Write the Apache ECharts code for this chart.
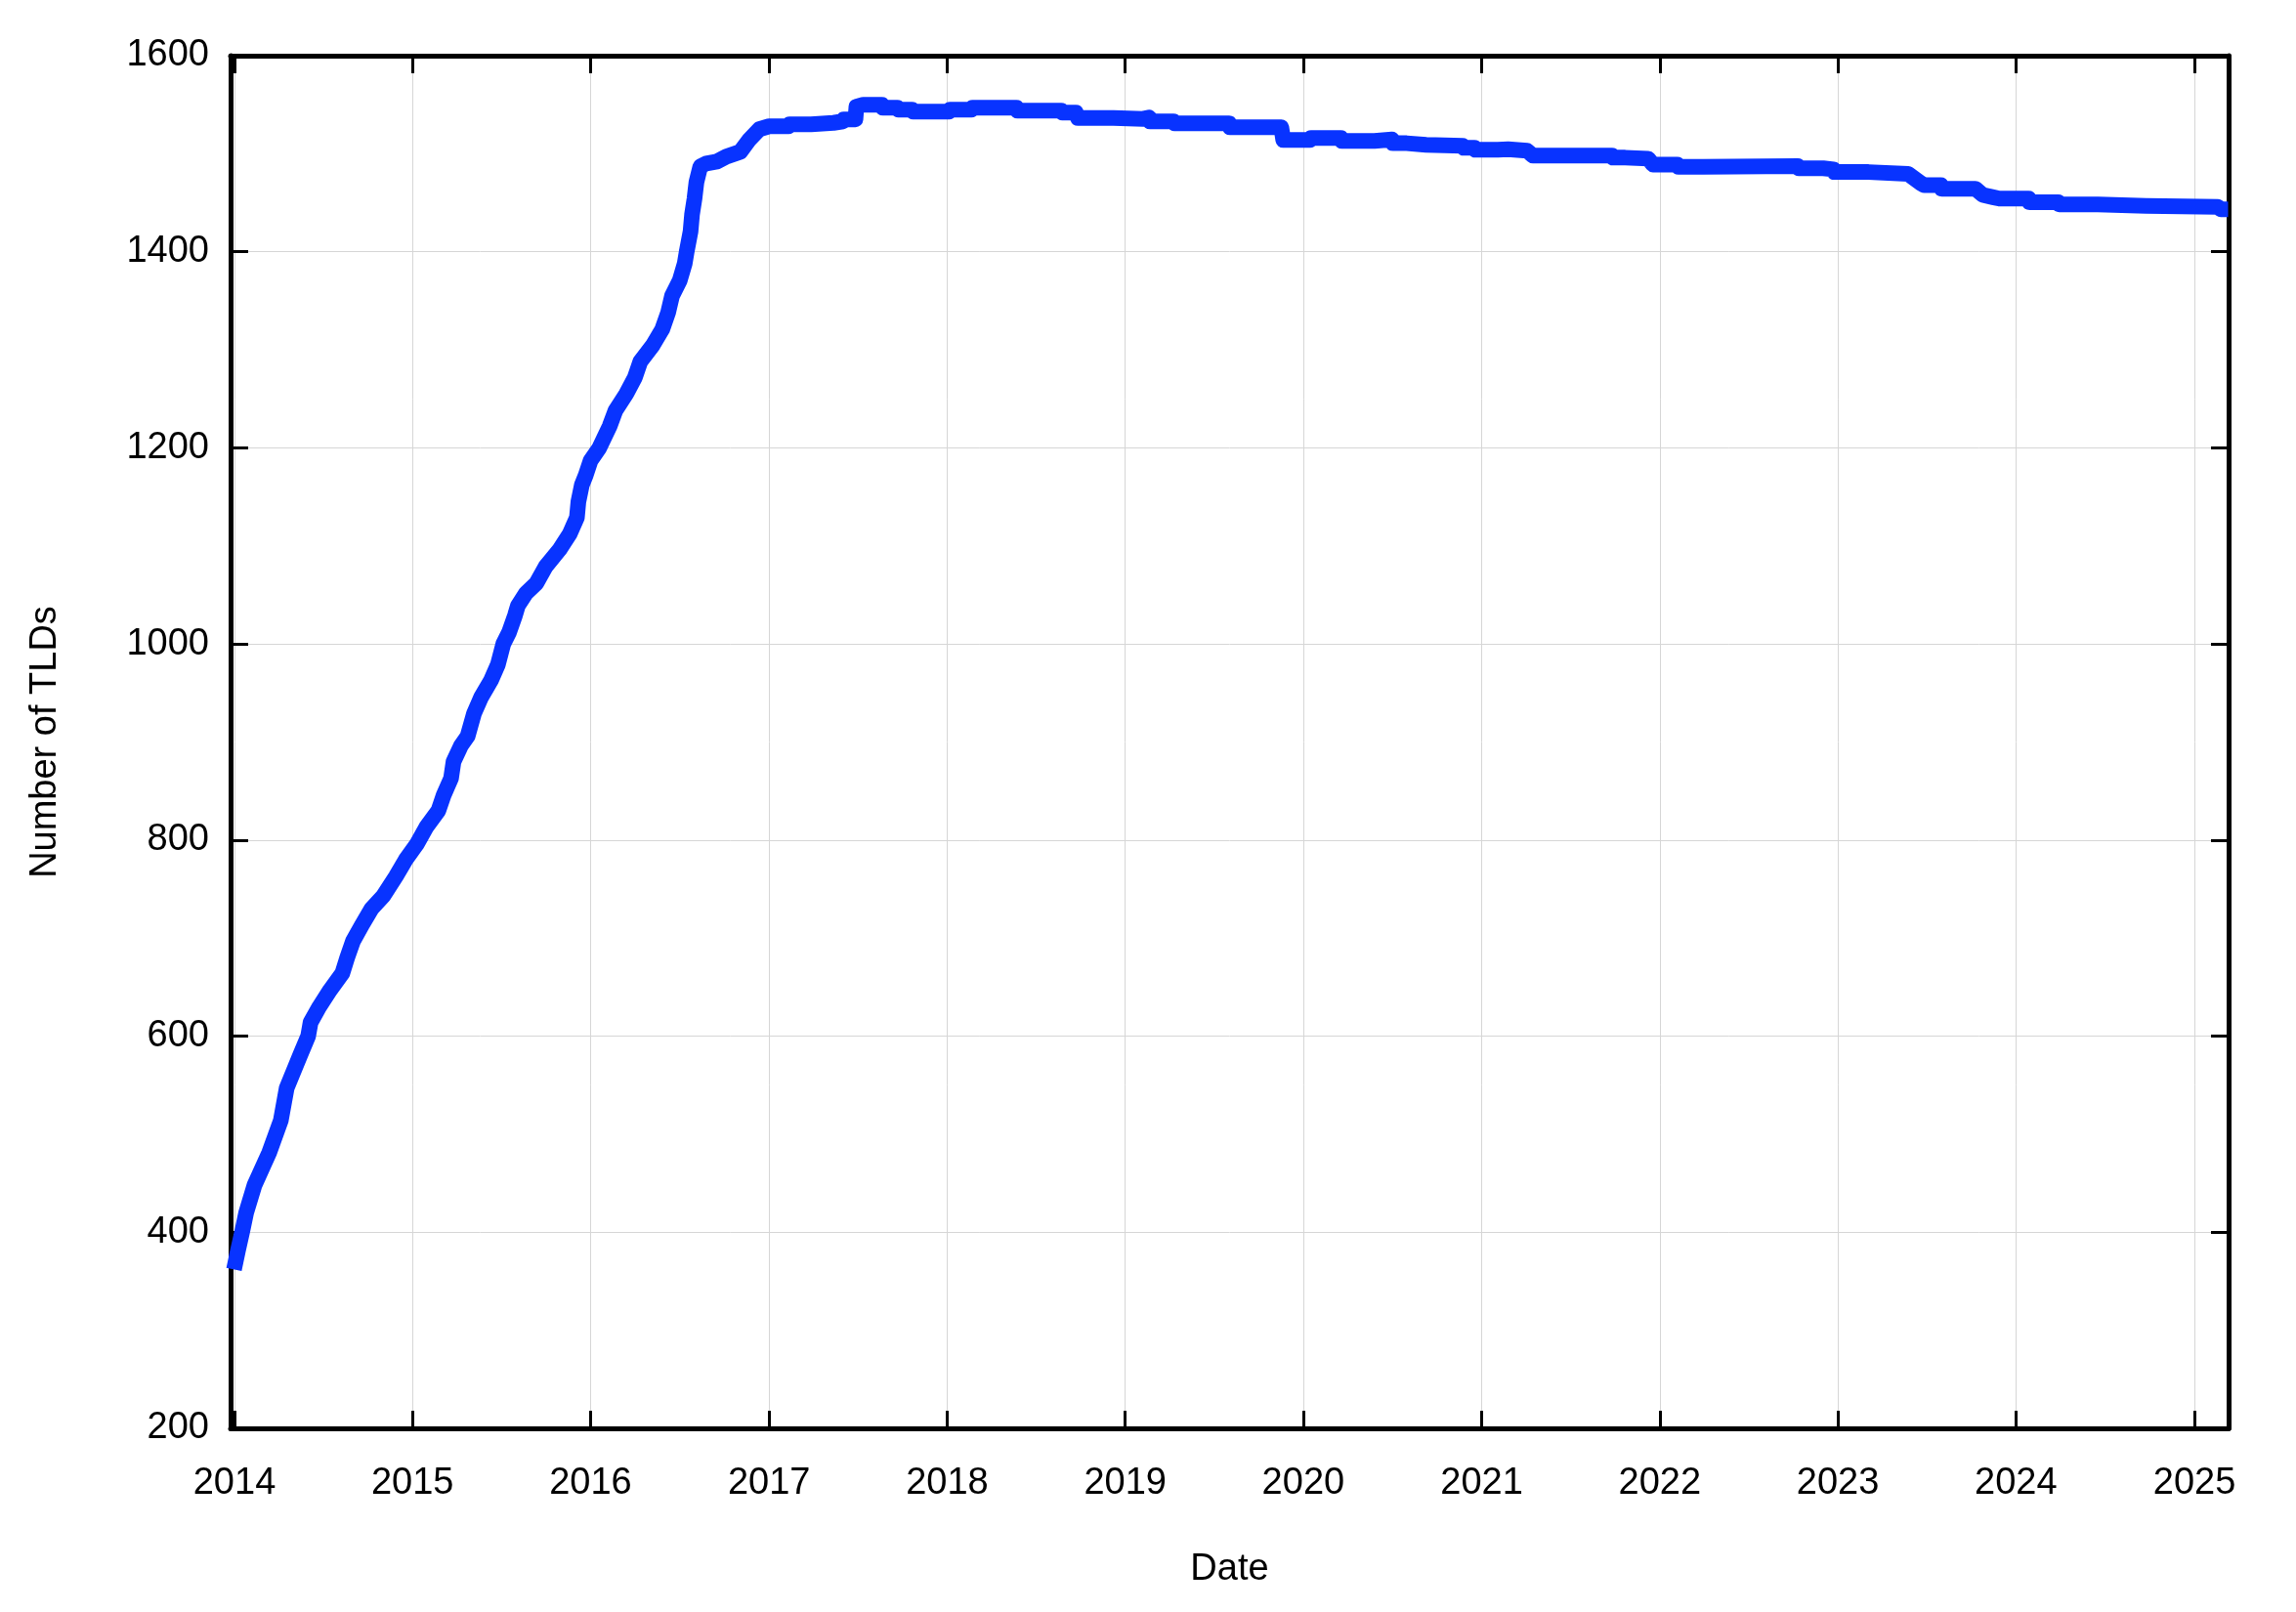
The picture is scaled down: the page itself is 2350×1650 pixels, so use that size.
<!DOCTYPE html>
<html>
<head>
<meta charset="utf-8">
<script src="https://cdn.jsdelivr.net/npm/echarts@6/dist/echarts.min.js"></script>
<style>
html,body{margin:0;padding:0;background:#fff;}
#chart{width:2350px;height:1650px;}
</style>
</head>
<body>
<div id="chart"></div>
<script>
const dates = [
'2013-12-31','2014-01-08','2014-01-17','2014-01-25','2014-02-11','2014-03-13','2014-04-06','2014-04-18','2014-05-16','2014-06-01',
'2014-06-06','2014-06-24','2014-07-16','2014-08-10','2014-08-20','2014-09-01','2014-09-19','2014-10-09','2014-11-02','2014-11-28',
'2014-12-18','2015-01-10','2015-01-29','2015-02-23','2015-03-06','2015-03-21','2015-03-26','2015-04-10','2015-04-24','2015-05-07',
'2015-05-22','2015-06-11','2015-06-25','2015-07-06','2015-07-18','2015-07-30','2015-08-05','2015-08-22','2015-09-12','2015-10-01',
'2015-10-29','2015-11-19','2015-12-04','2015-12-07','2015-12-14','2015-12-22','2016-01-01','2016-01-19','2016-02-09','2016-02-21',
'2016-03-14','2016-04-01','2016-04-12','2016-05-08','2016-05-27','2016-06-08','2016-06-16','2016-07-02','2016-07-12','2016-07-16',
'2016-07-24','2016-07-27','2016-08-01','2016-08-05','2016-08-13','2016-08-25','2016-09-16','2016-10-05','2016-11-03','2016-11-21',
'2016-12-12','2017-01-01','2017-02-10','2017-02-12','2017-03-28','2017-03-30','2017-05-13','2017-05-15','2017-06-01','2017-06-03',
'2017-06-27','2017-06-29','2017-07-13','2017-08-20','2017-08-22','2017-09-21','2017-09-23','2017-10-21','2017-10-23','2018-01-05',
'2018-01-07','2018-02-20','2018-02-22','2018-05-23','2018-05-25','2018-08-23','2018-08-25','2018-09-22','2018-09-26','2018-12-08',
'2018-12-10','2019-02-07','2019-02-08','2019-02-19','2019-02-21','2019-04-10','2019-04-12','2019-08-02','2019-08-04','2019-11-17',
'2019-11-21','2020-01-15','2020-01-17','2020-03-18','2020-03-20','2020-05-26','2020-05-28','2020-07-01','2020-07-03','2020-07-31',
'2020-08-02','2020-09-09','2020-09-11','2020-11-23','2020-11-25','2020-12-17','2020-12-19','2021-02-03','2021-02-05','2021-02-24',
'2021-02-26','2021-04-04','2021-04-16','2021-09-25','2021-09-27','2021-10-22','2021-10-24','2021-12-08','2021-12-18','2022-02-06',
'2022-02-08','2022-03-30','2022-04-01','2022-10-11','2022-10-13','2022-12-02','2022-12-04','2022-12-23','2022-12-25','2023-03-05',
'2023-03-07','2023-05-25','2023-06-20','2023-06-27','2023-07-31','2023-08-02','2023-10-10','2023-10-25','2023-11-15','2023-11-28',
'2024-01-27','2024-01-29','2024-03-28','2024-03-30','2024-06-17','2024-06-19','2024-09-24','2024-09-26','2025-02-18','2025-02-24',
'2025-03-11'
];
const tldCounts = [
362,381,401,420,448,481,514,547,581,600,
614,630,647,664,680,697,713,730,743,763,
780,796,813,830,846,863,880,896,906,929,
946,963,979,1000,1012,1029,1039,1052,1062,1079,
1096,1112,1129,1145,1162,1172,1187,1200,1222,1238,
1255,1272,1288,1305,1321,1338,1355,1371,1388,1400,
1421,1438,1454,1471,1487,1490,1492,1497,1502,1514,
1525,1528,1528,1530,1530,1531.5,1531.5,1533,1533,1535,
1535,1548,1550,1550,1547,1547,1545,1545,1543,1543,
1545,1545,1547,1547,1544,1544,1542,1542,1536.5,1536.5,
1535.6,1535.6,1537,1537,1533,1533,1531,1531,1527,1527,
1514,1514,1516,1516,1513,1513,1514.5,1514.5,1510.7,1510.7,
1509,1509,1508,1508,1506,1506,1504,1504,1504.5,1504.5,
1503,1503,1498,1498,1496,1496,1495,1495,1489,1489,
1486.6,1486.6,1487.4,1487.4,1485.2,1485.2,1484,1484,1481.3,1481.3,
1479.4,1479.4,1470,1468,1468,1464.3,1464.3,1458,1455.7,1454.3,
1454.3,1450.5,1450.5,1448.4,1448.4,1446.7,1446.7,1445.7,1445.7,1443.4,
1443.4
];
const yTicks = [200, 400, 600, 800, 1000, 1200, 1400, 1600];
const xMin = '2013-12-24';
const xMax = '2025-03-12';

const seriesData = dates.map((d, i) => [d, tldCounts[i]]);
const FONT = '"Liberation Sans", Arial, sans-serif';
const YEAR = 365 * 24 * 3600 * 1000;

const chart = echarts.init(document.getElementById('chart'), null, {renderer: 'canvas'});
const tickStyle = {show: true, inside: true, length: 18, lineStyle: {color: '#000', width: 3}};
const lineStyleAxis = {show: true, onZero: false, lineStyle: {color: '#000', width: 5}};
chart.setOption({
  animation: false,
  backgroundColor: '#fff',
  grid: {left: 236, right: 69, top: 57, bottom: 188, containLabel: false},
  xAxis: [{
    type: 'time', position: 'bottom', min: xMin, max: xMax,
    minInterval: YEAR, maxInterval: YEAR + 2 * 864e5,
    name: 'Date', nameLocation: 'middle', nameGap: 126,
    nameTextStyle: {fontFamily: FONT, fontSize: 38, color: '#000'},
    axisLine: lineStyleAxis, axisTick: tickStyle,
    axisLabel: {show: true, margin: 38, fontFamily: FONT, fontSize: 38, color: '#000',
      formatter: v => String(new Date(v).getFullYear())},
    splitLine: {show: true, lineStyle: {color: '#d6d6d6', width: 1}}
  }, {
    type: 'time', position: 'top', min: xMin, max: xMax,
    minInterval: YEAR, maxInterval: YEAR + 2 * 864e5,
    axisLine: lineStyleAxis, axisTick: tickStyle,
    axisLabel: {show: false}, splitLine: {show: false}
  }],
  yAxis: [{
    type: 'value', position: 'left', min: yTicks[0], max: yTicks[yTicks.length - 1], interval: 200,
    name: 'Number of TLDs', nameLocation: 'middle', nameGap: 170,
    nameTextStyle: {fontFamily: FONT, fontSize: 38, color: '#000'},
    axisLine: lineStyleAxis, axisTick: tickStyle,
    axisLabel: {show: true, margin: 22, fontFamily: FONT, fontSize: 38, color: '#000',
      formatter: v => String(v)},
    splitLine: {show: true, lineStyle: {color: '#d6d6d6', width: 1}}
  }, {
    type: 'value', position: 'right', min: yTicks[0], max: yTicks[yTicks.length - 1], interval: 200,
    axisLine: lineStyleAxis, axisTick: tickStyle,
    axisLabel: {show: false}, splitLine: {show: false}
  }],
  series: [{
    type: 'line', xAxisIndex: 0, yAxisIndex: 0,
    data: seriesData, showSymbol: false, symbol: 'none', clip: false,
    lineStyle: {color: '#0833ff', width: 16, cap: 'butt', join: 'round'},
    z: 1
  }]
});
</script>
</body>
</html>
